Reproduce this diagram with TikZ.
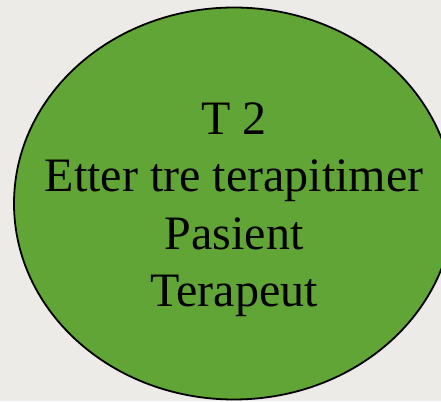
\documentclass[tikz,border=0pt]{standalone}
\usepackage{fontspec}
\setmainfont{Liberation Serif}
\usetikzlibrary{shapes.geometric}
\definecolor{bg}{HTML}{EDEBE8}
\definecolor{leaf}{HTML}{60A535}
\begin{document}
\begin{tikzpicture}[x=1pt,y=1pt,
  lbl/.style={font=\fontsize{48}{57.5}\selectfont, anchor=base, inner sep=0pt, text=black}]
\useasboundingbox (0,0) rectangle (441,401);
\fill[bg] (0,0) rectangle (441,401);
\begin{scope}
\clip (0,0) rectangle (441,401);
\node[ellipse, draw=black, line width=1.8pt, fill=leaf, minimum width=440pt, minimum height=392pt, inner sep=0pt] (oval) at (234,197.5) {};
\end{scope}
\node[lbl] (t1) at (234,266) {T 2};
\node[lbl] (t2) at (234,209) {Etter tre terapitimer};
\node[lbl] (t3) at (234,151) {Pasient};
\node[lbl] (t4) at (234,94) {Terapeut};
\end{tikzpicture}
\end{document}
